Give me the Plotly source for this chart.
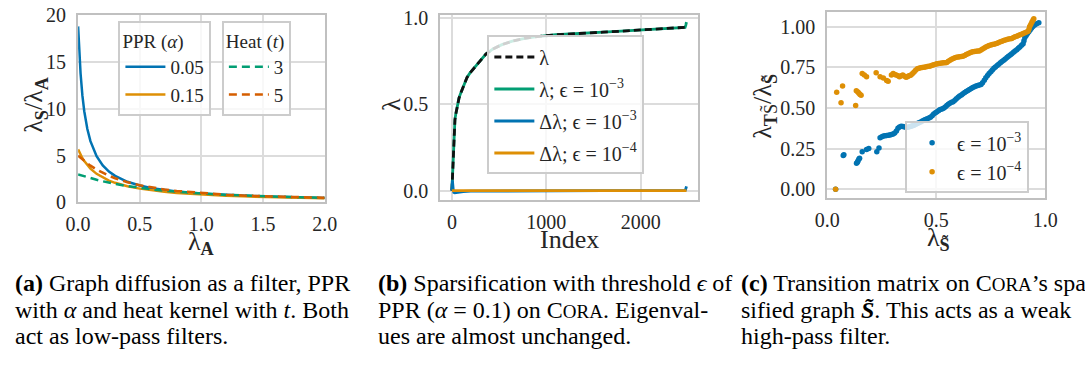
import plotly.graph_objects as go

W, H = 1085, 372
FONT = "Liberation Serif"

# ---------------- (a) graph diffusion as a filter ----------------
lam_a = [0, 0.01, 0.02, 0.035, 0.05, 0.075, 0.1, 0.15, 0.2, 0.25, 0.3, 0.4, 0.5,
         0.6, 0.7, 0.8, 1.0, 1.2, 1.4, 1.6, 1.8, 2.0]
ppr_005 = [18.8, 15.97, 13.77, 11.41, 9.74, 7.84, 6.55, 4.94, 3.96, 3.30, 2.84, 2.21, 1.81,
           1.53, 1.33, 1.17, 0.95, 0.80, 0.69, 0.61, 0.54, 0.49]
ppr_015 = [5.67, 5.36, 5.09, 4.73, 4.42, 3.98, 3.62, 3.06, 2.66, 2.34, 2.10, 1.73, 1.48,
           1.29, 1.14, 1.02, 0.85, 0.73, 0.63, 0.56, 0.51, 0.46]
heat_lam = [0, 0.05, 0.1, 0.15, 0.2, 0.25, 0.3, 0.4, 0.5, 0.6, 0.7, 0.8, 1.0, 1.2, 1.4,
            1.6, 1.8, 2.0]
heat_3 = [3.0, 2.79, 2.59, 2.42, 2.26, 2.11, 1.98, 1.75, 1.55, 1.39, 1.25, 1.14, 0.95,
          0.81, 0.70, 0.62, 0.55, 0.50]
heat_5 = [5.0, 4.42, 3.93, 3.52, 3.16, 2.85, 2.59, 2.16, 1.84, 1.58, 1.39, 1.23, 0.99,
          0.83, 0.71, 0.62, 0.56, 0.50]

# ---------------- (b) sparsification ----------------
idx_b = [0, 3, 6, 10, 15, 20, 25, 32, 40, 50, 60, 75, 90, 110, 130, 160, 190, 220, 250,
         300, 360, 435, 530, 640, 760, 880, 1000, 1100, 1200, 1300, 1400, 1500, 1600,
         1700, 1800, 1900, 2000, 2100, 2200, 2300, 2400, 2470]
lam_b = [0.0, 0.04, 0.12, 0.2, 0.28, 0.33, 0.37, 0.41, 0.44, 0.475, 0.5, 0.535, 0.56,
         0.59, 0.62, 0.655, 0.68, 0.70, 0.72, 0.755, 0.79, 0.82, 0.845, 0.865, 0.88,
         0.89, 0.898, 0.902, 0.905, 0.907, 0.909, 0.913, 0.917, 0.92, 0.923, 0.925,
         0.928, 0.931, 0.934, 0.937, 0.942, 0.945]
idx_b_sp = idx_b + [2478, 2485]
lam_b_sp = lam_b + [0.958, 0.975]
idx_d3 = [0, 5, 10, 15, 20, 30, 50, 80, 120, 200, 400, 800, 1200, 1600, 2000, 2400,
          2470, 2478, 2485]
dlam_3 = [0.0, 0.06, 0.03, 0.0, -0.01, -0.012, -0.01, -0.008, -0.005, -0.003, -0.002,
          -0.001, 0.0, 0.0, 0.0, 0.0, 0.0, 0.01, 0.025]
idx_d4 = [0, 500, 1000, 1500, 2000, 2485]
dlam_4 = [0.0, 0.0, 0.0, 0.001, 0.0, 0.0]

# ---------------- (c) transition matrix ----------------
c_x3 = [0.038, 0.073, 0.076, 0.134, 0.138, 0.141, 0.145, 0.148, 0.160, 0.180, 0.190,
        0.227, 0.237,
        0.242, 0.250, 0.257, 0.265, 0.272, 0.280, 0.287, 0.294, 0.302, 0.309, 0.317,
        0.324, 0.331, 0.339, 0.347, 0.355, 0.362, 0.369, 0.377, 0.384, 0.391, 0.398,
        0.406, 0.413, 0.420, 0.428, 0.436, 0.443, 0.450, 0.458, 0.466, 0.473, 0.481,
        0.488, 0.496, 0.503, 0.511, 0.518, 0.526, 0.533, 0.541, 0.548, 0.555, 0.562,
        0.570, 0.577, 0.585, 0.592, 0.600, 0.607, 0.615, 0.622, 0.630, 0.637, 0.645,
        0.652, 0.660, 0.667, 0.675, 0.682, 0.690, 0.697, 0.705, 0.712, 0.720, 0.727,
        0.735, 0.742, 0.750, 0.757, 0.764, 0.771, 0.779, 0.786, 0.794, 0.801, 0.809,
        0.816, 0.824, 0.831, 0.839, 0.846, 0.854, 0.861, 0.869, 0.876, 0.883, 0.891,
        0.898, 0.902, 0.906, 0.912, 0.918, 0.924, 0.930, 0.936, 0.943, 0.951, 0.960,
        0.970]
c_y3 = [0.000, 0.208, 0.212, 0.160, 0.166, 0.175, 0.186, 0.190, 0.231, 0.245, 0.250,
        0.230, 0.253,
        0.317, 0.322, 0.327, 0.329, 0.331, 0.332, 0.334, 0.336, 0.340, 0.346, 0.358,
        0.375, 0.383, 0.388, 0.385, 0.382, 0.381, 0.381, 0.384, 0.387, 0.390, 0.394,
        0.399, 0.404, 0.408, 0.414, 0.419, 0.424, 0.428, 0.433, 0.438, 0.442, 0.452,
        0.462, 0.470, 0.477, 0.484, 0.490, 0.494, 0.498, 0.506, 0.514, 0.522, 0.529,
        0.534, 0.538, 0.547, 0.556, 0.565, 0.573, 0.580, 0.587, 0.594, 0.601, 0.607,
        0.613, 0.619, 0.625, 0.630, 0.634, 0.637, 0.640, 0.644, 0.655, 0.670, 0.685,
        0.699, 0.711, 0.722, 0.733, 0.743, 0.752, 0.761, 0.769, 0.777, 0.785, 0.793,
        0.801, 0.809, 0.817, 0.825, 0.833, 0.842, 0.850, 0.858, 0.866, 0.875, 0.885,
        0.894, 0.912, 0.933, 0.945, 0.957, 0.968, 0.979, 0.990, 1.000, 1.010, 1.017,
        1.023]
c_x4 = [0.038, 0.043, 0.063, 0.070, 0.130, 0.133, 0.140, 0.145, 0.150, 0.155, 0.160,
        0.170, 0.180, 0.224, 0.242, 0.257, 0.272, 0.279,
        0.294, 0.302, 0.309, 0.316, 0.324, 0.331, 0.339, 0.346, 0.354, 0.361, 0.367,
        0.372, 0.378, 0.384, 0.391, 0.398, 0.405, 0.413, 0.420, 0.428, 0.435, 0.443,
        0.450, 0.458, 0.466, 0.473, 0.481, 0.488, 0.496, 0.503, 0.510, 0.518, 0.526,
        0.533, 0.541, 0.548, 0.555, 0.563, 0.570, 0.578, 0.585, 0.592, 0.600, 0.607,
        0.615, 0.622, 0.630, 0.637, 0.645, 0.652, 0.660, 0.667, 0.675, 0.682, 0.690,
        0.697, 0.705, 0.712, 0.720, 0.727, 0.735, 0.742, 0.750, 0.757, 0.764, 0.772,
        0.779, 0.786, 0.794, 0.801, 0.809, 0.816, 0.824, 0.831, 0.839, 0.846, 0.854,
        0.861, 0.869, 0.876, 0.884, 0.891, 0.898, 0.906, 0.914, 0.921, 0.925, 0.928,
        0.933, 0.938, 0.943, 0.947]
c_y4 = [0.000, 0.596, 0.531, 0.635, 0.515, 0.606, 0.598, 0.590, 0.583, 0.578, 0.711,
        0.702, 0.692, 0.716, 0.692, 0.683, 0.669, 0.664,
        0.702, 0.711, 0.706, 0.702, 0.697, 0.692, 0.698, 0.702, 0.695, 0.688, 0.692,
        0.696, 0.699, 0.702, 0.712, 0.721, 0.731, 0.740, 0.743, 0.746, 0.748, 0.750,
        0.752, 0.754, 0.756, 0.758, 0.762, 0.765, 0.768, 0.771, 0.773, 0.775, 0.776,
        0.777, 0.778, 0.779, 0.786, 0.793, 0.799, 0.804, 0.808, 0.811, 0.813, 0.814,
        0.816, 0.817, 0.822, 0.828, 0.833, 0.838, 0.842, 0.845, 0.847, 0.848, 0.849,
        0.850, 0.856, 0.862, 0.868, 0.874, 0.879, 0.883, 0.886, 0.889, 0.891, 0.894,
        0.898, 0.902, 0.906, 0.910, 0.914, 0.917, 0.920, 0.923, 0.925, 0.927, 0.932,
        0.937, 0.941, 0.945, 0.949, 0.952, 0.957, 0.962, 0.967, 0.971, 0.985, 1.000,
        1.013, 1.026, 1.039, 1.048]

BLUE, ORANGE, GREEN, RED = "#0173b2", "#de8f05", "#029e73", "#d55e00"
GRID = "#dcdcdc"
SPINE = "#c0c0c0"
TICKF = dict(family=FONT, size=20, color="#262626")
TITLEF = dict(family=FONT, size=26, color="#262626")
LEGF = dict(family=FONT, size=19, color="#262626")
LEGF_B = dict(family=FONT, size=20, color="#262626")

fig = go.Figure()

# (a)
fig.add_trace(go.Scatter(x=lam_a, y=ppr_005, mode="lines", name="0.05",
                         line=dict(color=BLUE, width=2.5), xaxis="x", yaxis="y", legend="legend"))
fig.add_trace(go.Scatter(x=lam_a, y=ppr_015, mode="lines", name="0.15",
                         line=dict(color=ORANGE, width=2.5), xaxis="x", yaxis="y", legend="legend"))
fig.add_trace(go.Scatter(x=heat_lam, y=heat_3, mode="lines", name="3",
                         line=dict(color=GREEN, width=2.5, dash="8px,5px"), xaxis="x", yaxis="y",
                         legend="legend2"))
fig.add_trace(go.Scatter(x=heat_lam, y=heat_5, mode="lines", name="5",
                         line=dict(color=RED, width=2.5, dash="8px,5px"), xaxis="x", yaxis="y",
                         legend="legend2"))

# (b)
fig.add_trace(go.Scatter(x=idx_b_sp, y=lam_b_sp, mode="lines", name="λ; ϵ = 10<sup>−3</sup>",
                         line=dict(color=GREEN, width=2.8), xaxis="x2", yaxis="y2", legend="legend3",
                         legendrank=2, legendgroup="b2"))
fig.add_trace(go.Scatter(x=idx_b, y=lam_b, mode="lines", name="λ",
                         line=dict(color="#111111", width=2.8, dash="7px,4px"), xaxis="x2", yaxis="y2",
                         legend="legend3", legendrank=1, legendgroup="b1"))
fig.add_trace(go.Scatter(x=idx_d3, y=dlam_3, mode="lines", name="Δλ; ϵ = 10<sup>−3</sup>",
                         line=dict(color=BLUE, width=2.8), xaxis="x2", yaxis="y2", legend="legend3",
                         legendrank=3, legendgroup="b3"))
fig.add_trace(go.Scatter(x=idx_d4, y=dlam_4, mode="lines", name="Δλ; ϵ = 10<sup>−4</sup>",
                         line=dict(color=ORANGE, width=2.8), xaxis="x2", yaxis="y2", legend="legend3",
                         legendrank=4, legendgroup="b4"))

# (c)
fig.add_trace(go.Scatter(x=c_x3, y=c_y3, mode="markers", name="ϵ = 10<sup>−3</sup>",
                         marker=dict(color=BLUE, size=5.5, line=dict(width=0)),
                         xaxis="x3", yaxis="y3", legend="legend4"))
fig.add_trace(go.Scatter(x=c_x4, y=c_y4, mode="markers", name="ϵ = 10<sup>−4</sup>",
                         marker=dict(color=ORANGE, size=5.5, line=dict(width=0)),
                         xaxis="x3", yaxis="y3", legend="legend4"))


def px_x(p):
    return p / W


def px_y(p):
    return 1 - p / H


def axis(domain, rng, tickvals, fmt, anchor, standoff):
    return dict(domain=domain, range=rng, tickvals=tickvals, tickformat=fmt,
                showgrid=True, gridcolor=GRID, gridwidth=1.5, zeroline=False,
                showline=True, mirror=True, linecolor=SPINE, linewidth=2,
                ticks="", tickfont=TICKF, ticklabelstandoff=standoff, anchor=anchor,
                ticklabeloverflow="allow")


LEG = dict(bgcolor="rgba(255,255,255,0.8)", bordercolor="#cccccc", borderwidth=2,
           font=LEGF, xanchor="left", yanchor="top", itemwidth=40)

fig.update_layout(
    width=W, height=H, margin=dict(l=0, r=0, t=0, b=0),
    paper_bgcolor="white", plot_bgcolor="white",
    xaxis=axis([px_x(66.7), px_x(319.3)], [0, 2], [0, 0.5, 1.0, 1.5, 2.0], ".1f", "y", 3),
    yaxis=axis([px_y(204), px_y(5)], [0, 20.05], [0, 5, 10, 15, 20], "d", "x", 6),
    xaxis2=axis([px_x(437.7), px_x(702)], [-124, 2609], [0, 1000, 2000], "d", "y2", 3),
    yaxis2=axis([px_y(201.7), px_y(5)], [-0.056, 1.018], [0, 0.5, 1.0], ".1f", "x2", 6),
    xaxis3=axis([px_x(834.3), px_x(1057.7)], [0, 1], [0, 0.5, 1.0], ".1f", "y3", 3),
    yaxis3=axis([px_y(199.3), px_y(2)], [-0.054, 1.09], [0, 0.25, 0.5, 0.75, 1.0], ".2f", "x3", 6),
    legend=dict(LEG, x=px_x(108), y=px_y(12), entrywidth=48,
                title=dict(text="PPR (<i>α</i>)", font=LEGF)),
    legend2=dict(LEG, x=px_x(214), y=px_y(12), entrywidth=55,
                 title=dict(text="Heat (<i>t</i>)", font=LEGF)),
    legend3=dict(LEG, x=px_x(486), y=px_y(27), tracegroupgap=3, entrywidth=160, font=LEGF_B),
    legend4=dict(LEG, x=px_x(914), y=px_y(118), entrywidth=90, font=LEGF_B),
    showlegend=True,
)

annots = [
    # axis titles
    dict(text="λ<sub><b>S</b></sub>/λ<sub><b>A</b></sub>", x=px_x(23), y=px_y(100), textangle=-90),
    dict(text="λ<sub><b>A</b></sub>", x=px_x(193), y=px_y(247)),
    dict(text="λ", x=px_x(388), y=px_y(100), textangle=-90),
    dict(text="Index", x=px_x(570), y=px_y(243)),
    dict(text="λ<sub><b>T</b>S̃</sub>/λ<sub><b>S̃</b></sub>", x=px_x(770), y=px_y(102), textangle=-90),
    dict(text="λ<sub><b>S̃</b></sub>", x=px_x(948), y=px_y(243)),
]
for a in annots:
    a.update(xref="paper", yref="paper", showarrow=False, xanchor="center", yanchor="middle",
             font=TITLEF)
    fig.add_annotation(**a)

CAPF = dict(family=FONT, size=24, color="black")
SC = "<span style='font-size:19px'>"
captions = [
    (0, 289, "<b>(a)</b> Graph diffusion as a filter, PPR"),
    (0, 318, "with <i>α</i> and heat kernel with <i>t</i>. Both"),
    (0, 346, "act as low-pass filters."),
    (372, 289, "<b>(b)</b> Sparsification with threshold <i>ϵ</i> of"),
    (372, 318, "PPR (<i>α</i> = 0.1) on C" + SC + "ORA</span>. Eigenval-"),
    (372, 346, "ues are almost unchanged."),
    (744, 289, "<b>(c)</b> Transition matrix on C" + SC + "ORA</span>’s spar-"),
    (744, 318, "sified graph <b><i>S̃</i></b>. This acts as a weak"),
    (744, 346, "high-pass filter."),
]
for xp, yp, t in captions:
    fig.add_annotation(text=t, x=px_x(xp), y=px_y(yp), xref="paper", yref="paper",
                       showarrow=False, xanchor="left", yanchor="middle", font=CAPF)

fig.write_html("out.html")
